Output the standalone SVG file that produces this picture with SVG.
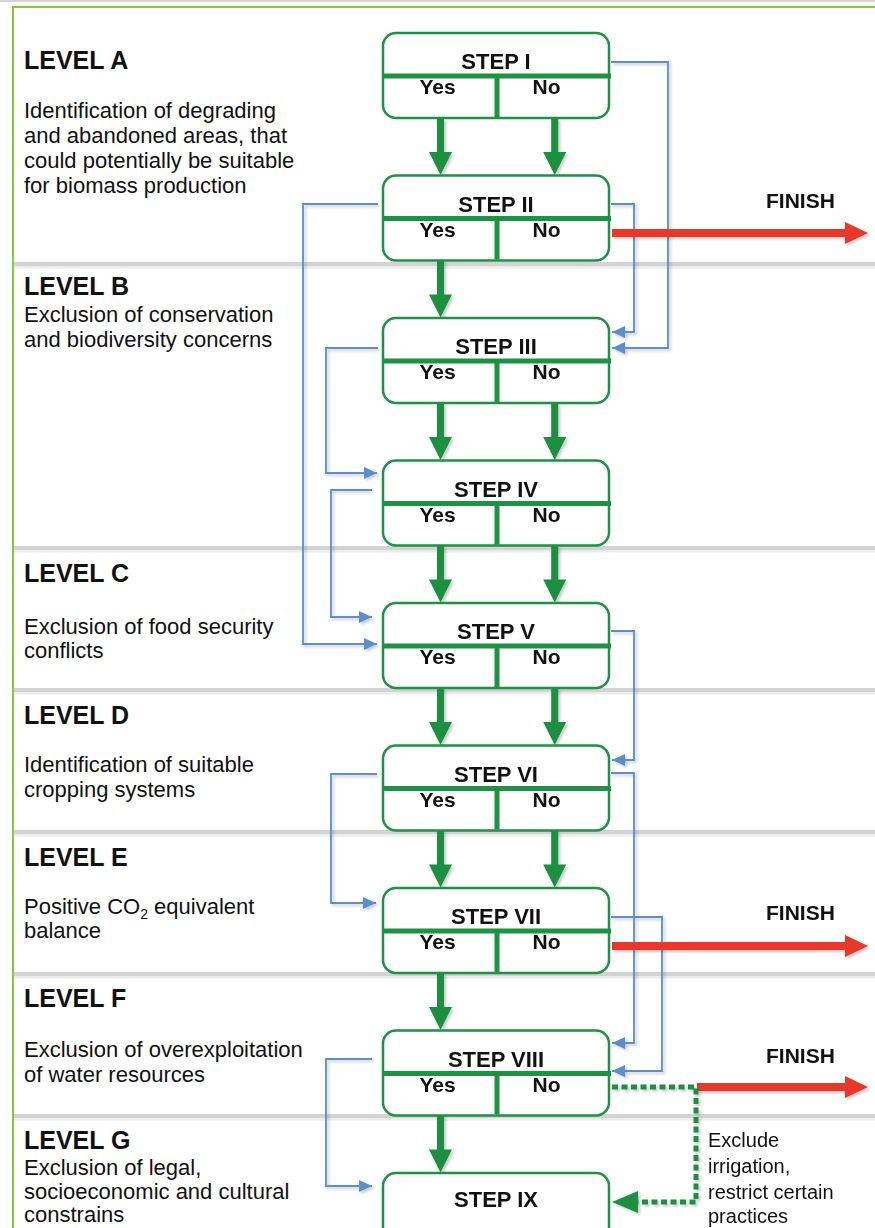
<svg xmlns="http://www.w3.org/2000/svg" width="875" height="1228" viewBox="0 0 875 1228">
<defs>
<style>
.lvl{font-family:"Liberation Sans",Arial,sans-serif;font-weight:bold;font-size:25px;fill:#111}
.desc{font-family:"Liberation Sans",Arial,sans-serif;font-size:22px;fill:#111}
.step{font-family:"Liberation Sans",Arial,sans-serif;font-weight:bold;font-size:22px;fill:#111;text-anchor:middle}
.yn{font-family:"Liberation Sans",Arial,sans-serif;font-weight:bold;font-size:21px;fill:#111;text-anchor:middle}
.fin{font-family:"Liberation Sans",Arial,sans-serif;font-weight:bold;font-size:21px;fill:#111}
.note{font-family:"Liberation Sans",Arial,sans-serif;font-size:20px;fill:#111}
.box{fill:#fff;stroke:#1d9144;stroke-width:2.5}
.dv{stroke:#1d9144;stroke-width:5}
.blue{fill:none;stroke:#5b8fca;stroke-width:1.8;marker-end:url(#bh)}
.sep{stroke:#d3d3d3;stroke-width:4}
.sep2{stroke:#ececec;stroke-width:3}
.red{fill:#e8382a}
</style>
<filter id="sh" x="-10%" y="-10%" width="130%" height="130%">
<feDropShadow dx="2" dy="2" stdDeviation="1.5" flood-color="#000" flood-opacity="0.22"/>
</filter>
<marker id="bh" markerWidth="14" markerHeight="12" refX="13" refY="6" orient="auto" markerUnits="userSpaceOnUse">
<path d="M0,0 L13,6 L0,12 z" fill="#5b8fca"/>
</marker>
<path id="ga" d="M-3.5,0 H3.5 V34 H11.5 L0,57 L-11.5,34 H-3.5 Z" fill="#1a8f3f"/>
</defs>
<rect x="0" y="0" width="875" height="1228" fill="#fff"/>

<g id="frame">
<line x1="0" y1="1" x2="875" y2="1" stroke="#c4c4c4" stroke-width="1.5"/>
<line x1="12" y1="7" x2="875" y2="7" stroke="#8cc63e" stroke-width="2"/>
<line x1="13" y1="6" x2="13" y2="1228" stroke="#8cc63e" stroke-width="2"/>
</g>

<g id="separators">
<line class="sep2" x1="14" y1="267" x2="875" y2="267"/><line class="sep" x1="14" y1="264" x2="875" y2="264"/>
<line class="sep2" x1="14" y1="551" x2="875" y2="551"/><line class="sep" x1="14" y1="548" x2="875" y2="548"/>
<line class="sep2" x1="14" y1="693" x2="875" y2="693"/><line class="sep" x1="14" y1="690" x2="875" y2="690"/>
<line class="sep2" x1="14" y1="835" x2="875" y2="835"/><line class="sep" x1="14" y1="832" x2="875" y2="832"/>
<line class="sep2" x1="14" y1="977" x2="875" y2="977"/><line class="sep" x1="14" y1="974" x2="875" y2="974"/>
<line class="sep2" x1="14" y1="1119" x2="875" y2="1119"/><line class="sep" x1="14" y1="1116" x2="875" y2="1116"/>
</g>

<g id="levels">
<g id="levelA"><text class="lvl" x="24" y="69">LEVEL A</text>
<text class="desc" x="24" y="118">Identification of degrading</text>
<text class="desc" x="24" y="143">and abandoned areas, that</text>
<text class="desc" x="24" y="168">could potentially be suitable</text>
<text class="desc" x="24" y="193">for biomass production</text></g>
<g id="levelB"><text class="lvl" x="24" y="295">LEVEL B</text>
<text class="desc" x="24" y="322">Exclusion of conservation</text>
<text class="desc" x="24" y="347">and biodiversity concerns</text></g>
<g id="levelC"><text class="lvl" x="24" y="582">LEVEL C</text>
<text class="desc" x="24" y="634">Exclusion of food security</text>
<text class="desc" x="24" y="658">conflicts</text></g>
<g id="levelD"><text class="lvl" x="24" y="724">LEVEL D</text>
<text class="desc" x="24" y="772">Identification of suitable</text>
<text class="desc" x="24" y="797">cropping systems</text></g>
<g id="levelE"><text class="lvl" x="24" y="866">LEVEL E</text>
<text class="desc" x="24" y="914">Positive CO<tspan font-size="14" dy="5">2</tspan><tspan dy="-5"> equivalent</tspan></text>
<text class="desc" x="24" y="938">balance</text></g>
<g id="levelF"><text class="lvl" x="24" y="1007">LEVEL F</text>
<text class="desc" x="24" y="1057">Exclusion of overexploitation</text>
<text class="desc" x="24" y="1082">of water resources</text></g>
<g id="levelG"><text class="lvl" x="24" y="1149">LEVEL G</text>
<text class="desc" x="24" y="1175">Exclusion of legal,</text>
<text class="desc" x="24" y="1199">socioeconomic and cultural</text>
<text class="desc" x="24" y="1222">constrains</text></g>
</g>

<g id="connectors">
<g id="green-arrows" filter="url(#sh)">
<use href="#ga" x="440.5" y="118"/><use href="#ga" x="554.7" y="118"/>
<use href="#ga" x="440.5" y="260.5"/>
<use href="#ga" x="440.5" y="403"/><use href="#ga" x="554.7" y="403"/>
<use href="#ga" x="440.5" y="545.5"/><use href="#ga" x="554.7" y="545.5"/>
<use href="#ga" x="440.5" y="688"/><use href="#ga" x="554.7" y="688"/>
<use href="#ga" x="440.5" y="830.5"/><use href="#ga" x="554.7" y="830.5"/>
<use href="#ga" x="440.5" y="973"/>
<use href="#ga" x="440.5" y="1115.5"/>
</g>
<g id="blue-links" filter="url(#sh)">
<path class="blue" d="M611,62 H668 V348 H612"/>
<path class="blue" d="M611,204 H634 V332 H612"/>
<path class="blue" d="M378,204 H303 V644 H377"/>
<path class="blue" d="M378,348 H326 V473 H377"/>
<path class="blue" d="M372,490 H331 V617 H372"/>
<path class="blue" d="M611,631 H634 V760 H612"/>
<path class="blue" d="M377,774 H331 V903 H376"/>
<path class="blue" d="M611,773 H634 V1043 H612"/>
<path class="blue" d="M611,917 H662 V1071 H612"/>
<path class="blue" d="M372,1059 H326 V1186 H372"/>
</g>
<g id="red-arrows" filter="url(#sh)">
<path class="red" d="M612,229 H845 V222 L868,233 L845,244 V237 H612 Z"/>
<path class="red" d="M612,942 H845 V935 L868,946 L845,957 V950 H612 Z"/>
<path class="red" d="M697,1083 H845 V1076 L868,1087 L845,1098 V1091 H697 Z"/>
</g>
<g id="dotted" filter="url(#sh)">
<path d="M612,1087 H696 V1202 H638" fill="none" stroke="#1a8f3f" stroke-width="5" stroke-dasharray="6,3.5"/>
<path d="M612,1202 L638,1191 L638,1213 Z" fill="#1a8f3f"/>
</g>
</g>

<g id="finish-labels">
<text class="fin" x="766" y="208">FINISH</text>
<text class="fin" x="766" y="920">FINISH</text>
<text class="fin" x="766" y="1063">FINISH</text>
</g>
<g id="note">
<text class="note" x="708" y="1147">Exclude</text>
<text class="note" x="708" y="1173">irrigation,</text>
<text class="note" x="708" y="1199">restrict certain</text>
<text class="note" x="708" y="1223">practices</text>
</g>

<g id="step1"><rect class="box" x="383" y="33" width="226" height="85" rx="13"/><line class="dv" x1="383" y1="76" x2="611" y2="76"/><line class="dv" x1="497" y1="76" x2="497" y2="117"/><text class="step" x="496" y="69">STEP I</text><text class="yn" x="437.5" y="94">Yes</text><text class="yn" x="546.5" y="94">No</text></g>
<g id="step2"><rect class="box" x="383" y="175.5" width="226" height="85" rx="13"/><line class="dv" x1="383" y1="218.5" x2="611" y2="218.5"/><line class="dv" x1="497" y1="218.5" x2="497" y2="259.5"/><text class="step" x="496" y="211.5">STEP II</text><text class="yn" x="437.5" y="236.5">Yes</text><text class="yn" x="546.5" y="236.5">No</text></g>
<g id="step3"><rect class="box" x="383" y="318" width="226" height="85" rx="13"/><line class="dv" x1="383" y1="361" x2="611" y2="361"/><line class="dv" x1="497" y1="361" x2="497" y2="402"/><text class="step" x="496" y="354">STEP III</text><text class="yn" x="437.5" y="379">Yes</text><text class="yn" x="546.5" y="379">No</text></g>
<g id="step4"><rect class="box" x="383" y="460.5" width="226" height="85" rx="13"/><line class="dv" x1="383" y1="503.5" x2="611" y2="503.5"/><line class="dv" x1="497" y1="503.5" x2="497" y2="544.5"/><text class="step" x="496" y="496.5">STEP IV</text><text class="yn" x="437.5" y="521.5">Yes</text><text class="yn" x="546.5" y="521.5">No</text></g>
<g id="step5"><rect class="box" x="383" y="603" width="226" height="85" rx="13"/><line class="dv" x1="383" y1="646" x2="611" y2="646"/><line class="dv" x1="497" y1="646" x2="497" y2="687"/><text class="step" x="496" y="639">STEP V</text><text class="yn" x="437.5" y="664">Yes</text><text class="yn" x="546.5" y="664">No</text></g>
<g id="step6"><rect class="box" x="383" y="745.5" width="226" height="85" rx="13"/><line class="dv" x1="383" y1="788.5" x2="611" y2="788.5"/><line class="dv" x1="497" y1="788.5" x2="497" y2="829.5"/><text class="step" x="496" y="781.5">STEP VI</text><text class="yn" x="437.5" y="806.5">Yes</text><text class="yn" x="546.5" y="806.5">No</text></g>
<g id="step7"><rect class="box" x="383" y="888" width="226" height="85" rx="13"/><line class="dv" x1="383" y1="931" x2="611" y2="931"/><line class="dv" x1="497" y1="931" x2="497" y2="972"/><text class="step" x="496" y="924">STEP VII</text><text class="yn" x="437.5" y="949">Yes</text><text class="yn" x="546.5" y="949">No</text></g>
<g id="step8"><rect class="box" x="383" y="1030.5" width="226" height="85" rx="13"/><line class="dv" x1="383" y1="1073.5" x2="611" y2="1073.5"/><line class="dv" x1="497" y1="1073.5" x2="497" y2="1114.5"/><text class="step" x="496" y="1066.5">STEP VIII</text><text class="yn" x="437.5" y="1091.5">Yes</text><text class="yn" x="546.5" y="1091.5">No</text></g>
<g id="step9"><rect class="box" x="383" y="1173" width="226" height="80" rx="13"/><text class="step" x="496" y="1207">STEP IX</text></g>
</svg>
